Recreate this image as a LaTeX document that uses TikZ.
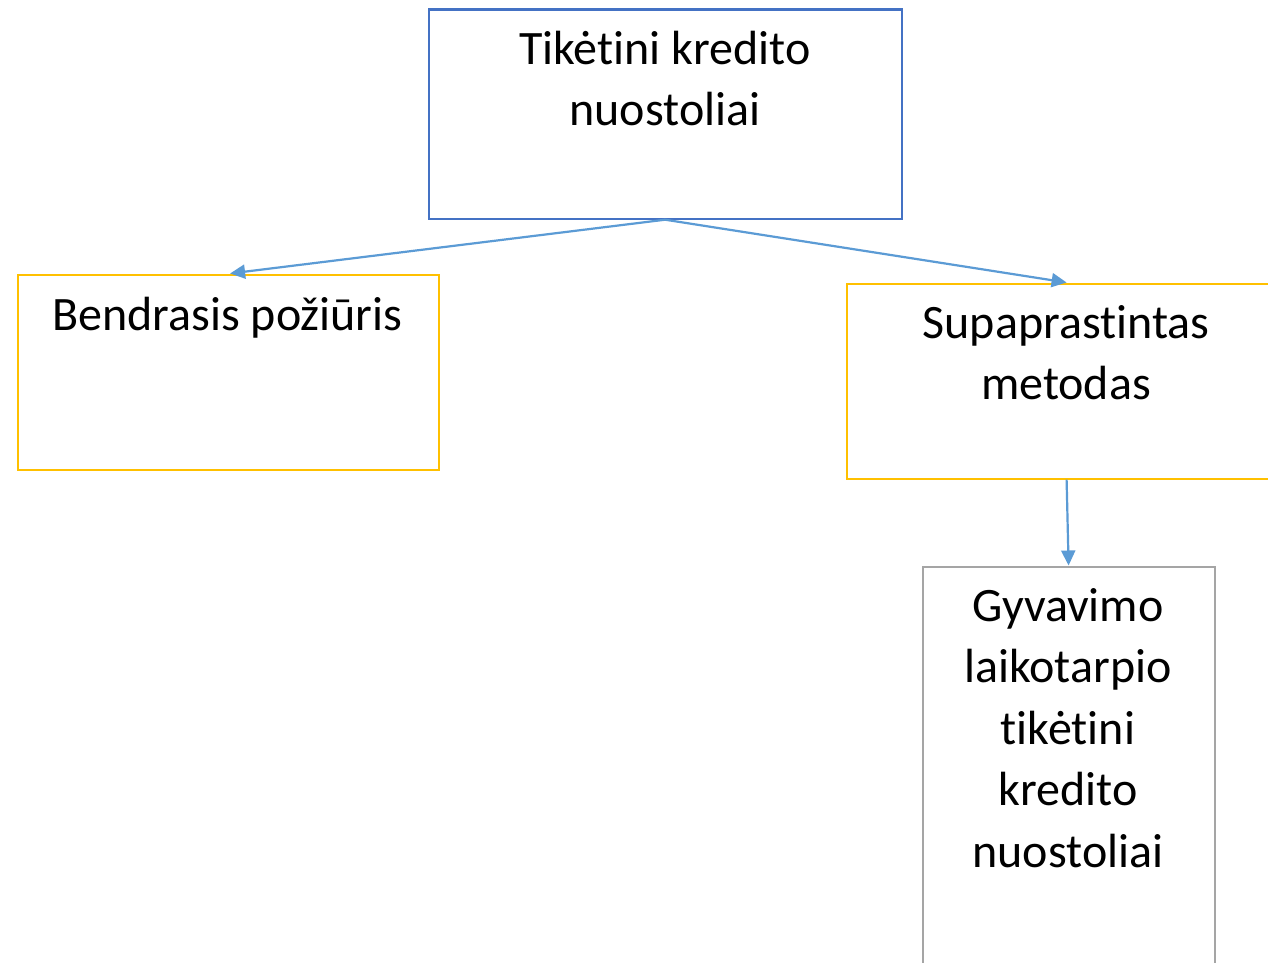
\documentclass[tikz,border=0pt]{standalone}
\usepackage{fontspec}
\setmainfont{Carlito}[Ligatures=NoCommon]
\usetikzlibrary{arrows.meta}
\definecolor{boxblue}{HTML}{4472C4}
\definecolor{boxyellow}{HTML}{FFC000}
\definecolor{boxgray}{HTML}{A5A5A5}
\definecolor{arrowblue}{HTML}{5B9BD5}
\newcommand{\firststrut}{\rule{0pt}{34pt}}
\begin{document}
\begin{tikzpicture}[x=1pt,y=-1pt,
  framebox/.style={draw, line width=2.2pt, rectangle, anchor=north west, inner sep=0pt},
  boxtext/.style={anchor=north, align=center, inner sep=0pt,
    font=\fontsize{48pt}{61.5pt}\selectfont},
  conn/.style={draw=arrowblue, line width=2.2pt, -{Triangle[length=15pt,width=14pt]}}]
\useasboundingbox (0,0) rectangle (1268,963);
\clip (0,0) rectangle (1268,963);
\fill[white] (0,0) rectangle (1268,963);
\node[framebox, draw=boxblue, minimum width=473pt, minimum height=209pt] (top) at (427.5,8.5) {};
\node[framebox, draw=boxyellow, minimum width=421pt, minimum height=195pt] (left) at (16.5,273.5) {};
\node[framebox, draw=boxyellow, minimum width=440pt, minimum height=195pt] (right) at (845.5,282.5) {};
\node[framebox, draw=boxgray, minimum width=292pt, minimum height=440pt] (bottom) at (921.5,565.5) {};
\node[boxtext] (toptext) at (665,30) {\firststrut Tikėtini kredito\\nuostoliai};
\node[boxtext] (lefttext) at (227.5,296) {\firststrut Bendrasis požiūris};
\node[boxtext] (righttext) at (1066,304) {\firststrut Supaprastintas\\metodas};
\node[boxtext] (bottomtext) at (1068,587) {\firststrut Gyvavimo\\laikotarpio\\tikėtini\\kredito\\nuostoliai};
\draw[conn] (top.south) -- ([xshift=2pt]left.north);
\draw[conn] (top.south) -- (right.north);
\draw[conn] (right.south) -- (bottom.north);
\end{tikzpicture}
\end{document}
